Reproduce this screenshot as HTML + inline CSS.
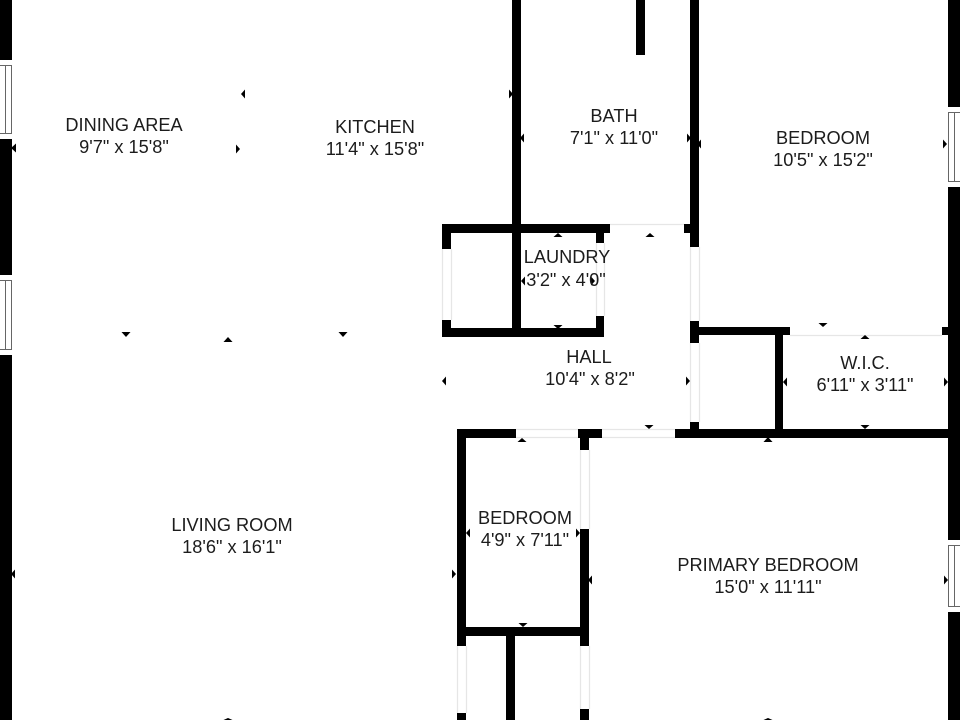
<!DOCTYPE html>
<html>
<head>
<meta charset="utf-8">
<style>
html,body{margin:0;padding:0;background:#fff;width:960px;height:720px;overflow:hidden}
svg{display:block}
text{font-family:"Liberation Sans",sans-serif;font-size:18.2px;fill:#1c1c1c;text-anchor:middle}
</style>
</head>
<body>
<svg width="960" height="720" viewBox="0 0 960 720" xmlns="http://www.w3.org/2000/svg">
<rect width="960" height="720" fill="#fff"/>

<!-- light door / opening lines -->
<g stroke="#e6e6e6" stroke-width="1.2" fill="none">
<path d="M442.5 249V320M451.5 249V320"/>
<path d="M596.5 243V316M604.5 243V316"/>
<path d="M610 224.5H684"/>
<path d="M690.5 247V321M699.5 247V321"/>
<path d="M690.5 343V422M699.5 343V422"/>
<path d="M790 335.5H942"/>
<path d="M516 429.5H578M516 437.5H578"/>
<path d="M602 429.5H675M602 437.5H675"/>
<path d="M580.5 450V529M589.5 450V529"/>
<path d="M580.5 646V709M589.5 646V709"/>
<path d="M457.5 646V713M466.5 646V713"/>
</g>

<!-- walls -->
<g fill="#000">
<rect x="0" y="0" width="12" height="720"/>
<rect x="948" y="0" width="12" height="720"/>
<rect x="512" y="0" width="9" height="337"/>
<rect x="636" y="0" width="9" height="55"/>
<rect x="690" y="0" width="9" height="247"/>
<rect x="684" y="224" width="6" height="9"/>
<rect x="442" y="224" width="168" height="9"/>
<rect x="442" y="224" width="9" height="25"/>
<rect x="442" y="320" width="9" height="17"/>
<rect x="442" y="328" width="162" height="9"/>
<rect x="596" y="224" width="8" height="19"/>
<rect x="596" y="316" width="8" height="21"/>
<rect x="690" y="321" width="9" height="22"/>
<rect x="690" y="327" width="100" height="8"/>
<rect x="775" y="327" width="8" height="103"/>
<rect x="942" y="327" width="6" height="8"/>
<rect x="675" y="429" width="273" height="9"/>
<rect x="690" y="422" width="9" height="16"/>
<rect x="457" y="429" width="59" height="9"/>
<rect x="578" y="429" width="24" height="9"/>
<rect x="457" y="429" width="9" height="217"/>
<rect x="580" y="429" width="9" height="21"/>
<rect x="580" y="529" width="9" height="117"/>
<rect x="457" y="627" width="132" height="9"/>
<rect x="506" y="627" width="9" height="93"/>
<rect x="457" y="713" width="9" height="7"/>
<rect x="580" y="709" width="9" height="11"/>
</g>

<!-- windows -->
<g fill="#fff" stroke="none">
<rect x="0" y="60" width="12" height="79"/>
<rect x="0" y="275" width="12" height="80"/>
<rect x="948" y="107" width="12" height="80"/>
<rect x="948" y="540" width="12" height="72"/>
</g>
<g stroke="#666" stroke-width="1" fill="none">
<path d="M0 65.5H11.5V133.5H0M5.5 65.5V133.5"/>
<path d="M0 280.5H11.5V349.5H0M5.5 280.5V349.5"/>
<path d="M960 112.5H948.5V181.5H960M954.5 112.5V181.5"/>
<path d="M960 545.5H948.5V606.5H960M954.5 545.5V606.5"/>
</g>

<!-- arrowheads -->
<g fill="#000">
<!-- left -->
<path d="M241 94l4-4.500v9z"/>
<path d="M11 148l5-4.500v9z"/>
<path d="M520 138l4-4.500v9z"/>
<path d="M697 144l4-4.500v9z"/>
<path d="M521 281l4-4.500v9z"/>
<path d="M442 381l4-4.500v9z"/>
<path d="M783 382l4-4.500v9z"/>
<path d="M11 574l4-4.500v9z"/>
<path d="M466 533l4-4.500v9z"/>
<path d="M588 580l4-4.500v9z"/>
<!-- right -->
<path d="M240 149l-4-4.500v9z"/>
<path d="M513 94l-4-4.500v9z"/>
<path d="M691 138l-4-4.500v9z"/>
<path d="M947 144l-4-4.500v9z"/>
<path d="M595 281l-4-4.500v9z"/>
<path d="M690 381l-4-4.500v9z"/>
<path d="M948 382l-4-4.500v9z"/>
<path d="M456 574l-4-4.500v9z"/>
<path d="M580 533l-4-4.500v9z"/>
<path d="M948 580l-4-4.500v9z"/>
<!-- up -->
<path d="M558 233l-4.500 4h9z"/>
<path d="M650 233l-4.500 4h9z"/>
<path d="M865 335l-4.500 4h9z"/>
<path d="M768 437l-4.500 5h9z"/>
<path d="M228 337l-4.500 5h9z"/>
<path d="M522 438l-4.500 4h9z"/>
<path d="M228 718l-4.500 2h9z"/>
<path d="M768 718l-4.500 2h9z"/>
<!-- down -->
<path d="M601 228l-4.500-4h9z"/>
<path d="M558 329l-4.500-4h9z"/>
<path d="M649 429l-4.500-4h9z"/>
<path d="M865 429l-4.500-4h9z"/>
<path d="M823 327l-4.500-4h9z"/>
<path d="M126 337l-4.500-5h9z"/>
<path d="M343 337l-4.500-5h9z"/>
<path d="M523 627l-4.500-4h9z"/>
</g>

<!-- labels -->
<text x="124" y="131">DINING AREA</text>
<text x="124" y="153">9'7" x 15'8"</text>
<text x="375" y="133">KITCHEN</text>
<text x="375" y="155">11'4" x 15'8"</text>
<text x="614" y="122">BATH</text>
<text x="614" y="144">7'1" x 11'0"</text>
<text x="823" y="144">BEDROOM</text>
<text x="823" y="166">10'5" x 15'2"</text>
<text x="567" y="263">LAUNDRY</text>
<text x="566" y="286">3'2" x 4'0"</text>
<text x="589" y="363">HALL</text>
<text x="590" y="385">10'4" x 8'2"</text>
<text x="865" y="369">W.I.C.</text>
<text x="865" y="391">6'11" x 3'11"</text>
<text x="232" y="531">LIVING ROOM</text>
<text x="232" y="553">18'6" x 16'1"</text>
<text x="525" y="524">BEDROOM</text>
<text x="525" y="546">4'9" x 7'11"</text>
<text x="768" y="571">PRIMARY BEDROOM</text>
<text x="768" y="593">15'0" x 11'11"</text>
</svg>
</body>
</html>
